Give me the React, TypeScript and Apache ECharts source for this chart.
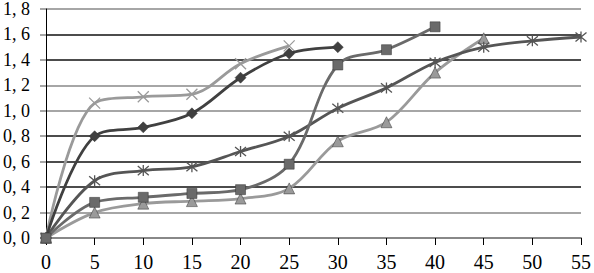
import React, { useEffect, useRef } from "react";
import * as echarts from "echarts";

const xTicks = [0, 5, 10, 15, 20, 25, 30, 35, 40, 45, 50, 55];
const sCross = [0, 1.06, 1.11, 1.13, 1.37, 1.51];
const sDiamond = [0, 0.80, 0.87, 0.98, 1.26, 1.45, 1.50];
const sSquare = [0, 0.28, 0.32, 0.35, 0.38, 0.58, 1.36, 1.48, 1.66];
const sStar = [0, 0.45, 0.53, 0.56, 0.68, 0.80, 1.02, 1.18, 1.38, 1.50, 1.55, 1.58];
const sTriangle = [0, 0.20, 0.27, 0.29, 0.31, 0.39, 0.76, 0.91, 1.30, 1.57];

const crossPath = "path://M0,0L10,10M10,0L0,10";
const starPath = "path://M0,0L10,10M10,0L0,10M5,-1L5,11";

function pts(vals: number[]) {
  return vals.map((v, i) => [xTicks[i], v]);
}

export default function App() {
  const ref = useRef<HTMLDivElement>(null);
  useEffect(() => {
    const chart = echarts.init(ref.current!, null, { renderer: "svg" });
    const font = "Liberation Serif";
    const mk = (name: string, vals: number[], color: string, symbol: string, size: number, stroke = false, z = 2) => ({
      name,
      type: "line",
      data: pts(vals),
      smooth: 0.35,
      symbol,
      symbolSize: size,
      z,
      lineStyle: { color, width: 2.8 },
      itemStyle: stroke
        ? { color: "rgba(0,0,0,0)", borderColor: color, borderWidth: 1.3 }
        : { color, borderColor: "#333", borderWidth: 0.5 },
    });
    chart.setOption({
      animation: false,
      backgroundColor: "#fff",
      grid: { left: 44, right: 12, top: 7, bottom: 35 },
      xAxis: {
        type: "value",
        min: 0,
        max: 55,
        interval: 5,
        axisLine: { show: true, lineStyle: { color: "#888", width: 2 } },
        axisTick: { show: true, length: 7, lineStyle: { color: "#000" } },
        axisLabel: { fontFamily: font, fontSize: 20, color: "#000", margin: 14 },
        splitLine: { show: false },
      },
      yAxis: {
        type: "value",
        min: 0,
        max: 1.8,
        interval: 0.2,
        axisLine: { show: true, lineStyle: { color: "#000", width: 1 } },
        axisTick: { show: true, length: 6, lineStyle: { color: "#888", width: 1.5 } },
        axisLabel: {
          fontFamily: font,
          fontSize: 18,
          color: "#000",
          margin: 16,
          formatter: (v: number) => v.toFixed(1).replace(".", ", "),
        },
        splitLine: {
          show: true,
          lineStyle: {
            width: 1.5,
            color: ["#888", "#888", "#111", "#111", "#111", "#888", "#888", "#111", "#111", "#888"],
          },
        },
      },
      series: [
        mk("s1", sCross, "#9a9a9a", crossPath, 11, true, 3),
        mk("s2", sDiamond, "#404040", "diamond", 11, false, 4),
        mk("s3", sSquare, "#6a6a6a", "rect", 10, false, 5),
        mk("s4", sStar, "#555555", starPath, 11, true, 3),
        mk("s5", sTriangle, "#9a9a9a", "triangle", 11, false, 2),
      ],
    });
    return () => chart.dispose();
  }, []);
  return <div ref={ref} style={{ width: 594, height: 273, position: "absolute", left: 0, top: 0 }} />;
}
